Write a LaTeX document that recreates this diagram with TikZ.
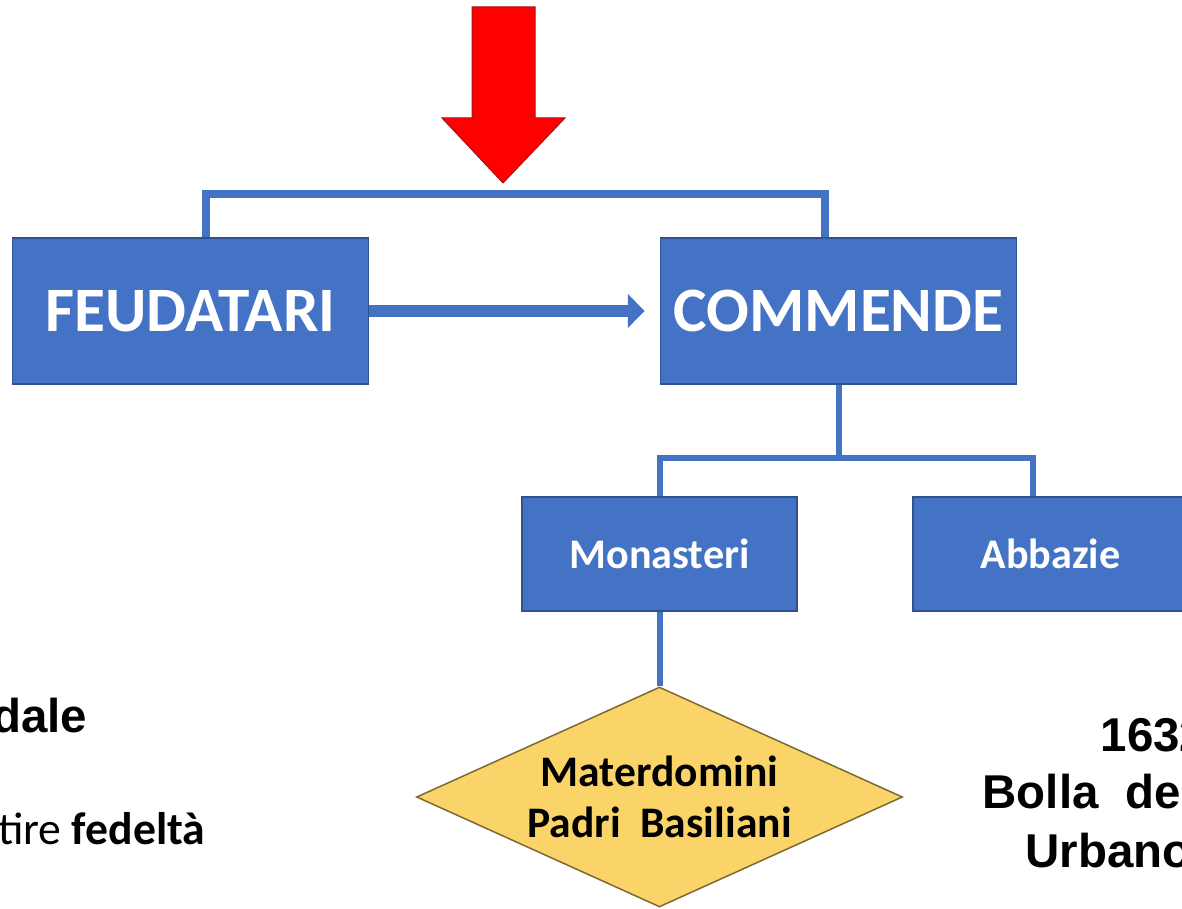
\documentclass[tikz,border=0pt]{standalone}
\usepackage{fontspec}
\setmainfont{Carlito}
\newfontfamily\arialfont{Liberation Sans}
\usepackage{tikz}
\usetikzlibrary{shapes.geometric, arrows.meta, positioning, calc}
\definecolor{officeblue}{RGB}{68,114,196}
\definecolor{edgeblue}{RGB}{47,82,143}
\definecolor{lightyellow}{RGB}{250,212,104}
\definecolor{darkyellow}{RGB}{125,105,50}
\definecolor{alertred}{RGB}{255,0,0}
\definecolor{darkred}{RGB}{165,20,20}
\tikzset{
  bigbox/.style={rectangle, draw=edgeblue, fill=officeblue, line width=0.15mm, inner sep=0pt,
    minimum width=35.6mm, minimum height=14.6mm, text=white,
    font=\fontsize{18}{22}\selectfont\bfseries},
  smallbox/.style={rectangle, draw=edgeblue, fill=officeblue, line width=0.15mm, inner sep=0pt,
    minimum width=27.5mm, minimum height=11.4mm, text=white,
    font=\fontsize{12}{14}\selectfont\bfseries},
  dmd/.style={diamond, aspect=2.2, draw=darkyellow, fill=lightyellow, line width=0.15mm,
    inner sep=0pt, minimum width=48.6mm, minimum height=22mm, align=center,
    font=\fontsize{12.4}{14.7}\selectfont\bfseries},
  bar/.style={officeblue, line width=0.8mm},
  thinbar/.style={officeblue, line width=0.6mm},
  flow/.style={-{Triangle[length=1.7mm,width=3.3mm]}, officeblue, line width=1.2mm, shorten >=1.5mm},
  note/.style={inner sep=0pt, font=\arialfont\fontsize{13.5}{16}\selectfont\bfseries},
  lnote/.style={inner sep=0pt, font=\fontsize{13}{16}\selectfont}
}

\begin{document}
\begin{tikzpicture}[x=0.1mm, y=-0.1mm]
  \useasboundingbox[fill=white] (0,0) rectangle (1182,909);
  \fill[alertred, draw=darkred, line width=0.1mm] (472,7) -- (535,7) -- (535,118) -- (565,118)
    -- (503,183) -- (442,118) -- (472,118) -- cycle;
  \node[bigbox] (feud) at (190.5,311) {FEUDATARI};
  \node[bigbox] (comm) at (838.5,311) {COMMENDE};
  \node[smallbox] (mona) at (659.5,554) {Monasteri};
  \node[smallbox] (abba) at (1050.5,554) {Abbazie};
  \node[dmd] (mater) at (659.5,797) {Materdomini\\Padri\ \ Basiliani};
  \draw[bar] ([xshift=1.5mm]feud.north) -- ++(0,-43) -| ([xshift=-1.35mm]comm.north);
  \draw[flow] (feud) -- (comm);
  \draw[thinbar] (comm.south) -- ++(0,73) coordinate (split);
  \draw[thinbar] (mona.north) |- (split) -| ([xshift=-1.75mm]abba.north);
  \draw[thinbar] (mona) -- (mater);
  \node[note, anchor=base east] (feudal) at (88,733) {dale};
  \node[lnote, anchor=base east] (oath) at (206,845) {tire \textbf{fedeltà}};
  \node[note, anchor=base west] (year) at (1100,752) {1632};
  \node[note, anchor=base west] (bull) at (982,808) {Bolla\ \ de};
  \node[note, anchor=base west] (pope) at (1025,867) {Urbano};
\end{tikzpicture}
\end{document}
